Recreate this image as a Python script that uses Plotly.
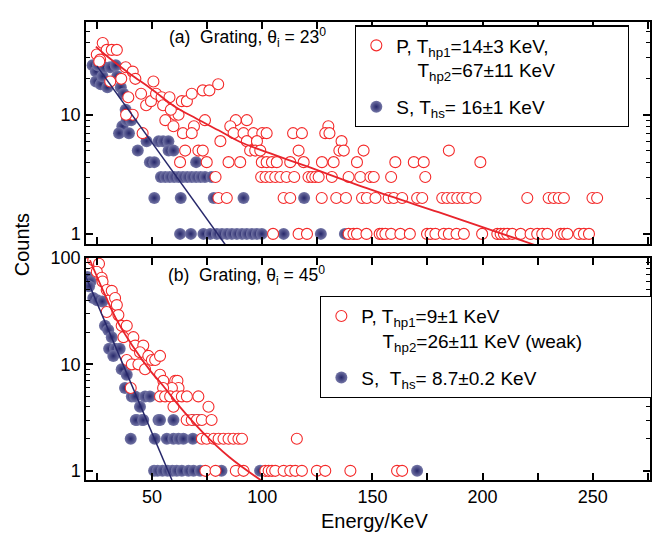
import plotly.graph_objects as go

# ---------------- data: panel (a) grating, theta_i = 23 deg ----------------
s_a_energy = [23, 24.5, 25.5, 24.5, 26.7, 27.5, 28.2, 29.7, 31, 33.5, 34.2, 35.8, 37, 38,
              36.5, 38.5, 40.5, 35, 39.5, 43.5, 47.5, 49, 51, 53, 55, 57.4, 57.5, 59.7,
              54, 56, 58, 60, 62, 64, 66, 68, 70, 70, 72, 74, 77,
              51, 63, 78, 91.5, 119,
              62.7, 67.6, 73.3, 76.4, 79.4, 81.7, 84, 86.2, 88.5, 90.8, 93, 95.3, 97.6, 99.8,
              109.7, 126.6, 137.5]
s_a_counts = [26, 23, 26, 19, 18, 21, 25, 17, 25, 26, 21, 17, 15, 11,
              8, 9, 9, 7, 7, 5, 6, 4, 4, 6, 6, 6, 5, 5,
              3, 3, 3, 3, 3, 3, 3, 3, 3, 4, 3, 3, 3,
              2, 2, 2, 2, 2,
              1, 1, 1, 1, 1, 1, 1, 1, 1, 1, 1, 1, 1, 1,
              1, 1, 1]

p_a_energy = [24.9, 27.6, 26.4, 29.4, 31.7, 34, 26, 31, 38, 36, 41.2, 42.4, 39.2, 41.2, 38.2,
              45.7, 45, 47.3, 49.5, 50.6, 51.8, 54.3, 55, 57.9, 56, 59.7, 63.5, 65.8, 68, 73,
              76, 80, 60.5, 62, 58.5,
              74, 88, 93,
              69, 85.5, 130,
              64, 68, 87, 91.5, 96, 100, 102, 114, 118, 128.6, 130.5,
              81, 93, 97.6, 136,
              65, 71, 73, 94.5, 96.8, 99.1, 116.5, 135, 137, 146, 184.7,
              62.7, 74.8, 84.7, 90, 99.8, 102, 104.4, 106.6, 112.7, 118.8, 127.1, 132.4, 143,
              160.4, 168.8, 173.3, 199,
              78.8, 99.5, 101.5, 103.6, 105.9, 108.2, 111, 114.5, 121, 122.6, 124.1, 125.6,
              131.6, 139.2, 144.5, 149.1, 150.6, 158.5, 174,
              80.1, 83.9, 109.7, 112.7, 127, 133.6, 138, 145.3, 147.5, 151.4, 157.4, 159.7,
              163.5, 170.3, 172.6, 181.7, 183.9, 186.2, 188.5, 190.8, 193, 196.8, 220.3, 230,
              232.3, 234.6, 236.9, 249.9, 252,
              104.9, 116.5, 120.3, 139.2, 141.4, 143, 147.3, 153.3, 154.4, 155.9, 158.5, 162.7,
              167, 174.8, 176.4, 178.6, 182.4, 184.7, 188.2, 191.5, 199.8, 206.7, 208.2, 209.7,
              211.2, 213.5, 217.3, 221.8, 224.8, 227.1, 229.4, 235.5, 237, 238.5, 243.8, 246,
              248.3]
p_a_counts = [32, 40, 29, 35, 35, 35, 28, 19, 25, 20, 23, 20, 14, 10, 10,
              7, 15, 12, 13, 19, 15, 14, 12, 14, 9, 8, 13, 13, 15, 16,
              16, 18, 10, 10, 11,
              9, 9, 9,
              8, 8, 8,
              7, 7, 7, 7, 7, 7, 7, 7, 7, 7, 7,
              6, 6, 6, 6,
              5, 5, 5, 5, 5, 5, 5, 5, 5, 5, 5,
              4, 4, 4, 4, 4, 4, 4, 4, 4, 4, 4, 4, 4,
              4, 4, 4, 4,
              3, 3, 3, 3, 3, 3, 3, 3, 3, 3, 3, 3,
              3, 3, 3, 3, 3, 3, 3,
              2, 2, 2, 2, 2, 2, 2, 2, 2, 2, 2, 2,
              2, 2, 2, 2, 2, 2, 2, 2, 2, 2, 2, 2,
              2, 2, 2, 2, 2,
              1, 1, 1, 1, 1, 1, 1, 1, 1, 1, 1, 1,
              1, 1, 1, 1, 1, 1, 1, 1, 1, 1, 1, 1,
              1, 1, 1, 1, 1, 1, 1, 1, 1, 1, 1, 1,
              1]

# fit curves
fit_p_a_energy = [24.5, 30, 40, 50, 60, 70, 81, 90, 102, 120, 149, 180, 200, 223.5]
fit_p_a_counts = [37.3, 30.5, 22, 16.3, 11.8, 9.3, 7.26, 5.9, 4.85, 3.7, 2.36, 1.52, 1.14, 0.81]
fit_s_a_energy = [24.9, 83.5]
fit_s_a_counts = [25.7, 0.8]

# ---------------- data: panel (b) grating, theta_i = 45 deg ----------------
s_b_energy = [20.6, 22.1, 21.4, 23.3, 25.1, 27.4, 28.6, 30.1, 31.7, 30.5, 33.2, 35.3, 32.4,
              36.2, 38.5, 37.7, 40.8, 42.3, 46.8, 49, 44.5, 43, 45.5, 42.6, 46, 52.9, 53.6,
              59.7, 68.8, 71,
              40.3, 51.2, 56.7, 59.7, 62, 64.2, 68.5,
              50.9, 52.5, 54.7, 57, 59.2, 61.2, 63.5, 66.5, 68.8, 71.8, 81.5, 99, 170.3]
s_b_counts = [66, 60, 54, 42, 40, 39, 23, 21, 18, 14, 14, 14, 12,
              9, 8, 6, 5, 5, 5, 5, 4, 3, 3, 3, 3, 3, 3,
              3, 3, 3,
              2, 2, 2, 2, 2, 2, 2,
              1, 1, 1, 1, 1, 1, 1, 1, 1, 1, 1, 1, 1]

p_b_energy = [21, 23.3, 25.9, 24.9, 27.1, 27.5, 29.4, 31.7, 33.2, 29.4, 34, 34.7, 36.2, 38.5,
              37, 41.5, 38.5, 40.8, 43.8, 42.3, 46, 44.5, 48.3, 46.8, 49.9, 51.4, 53.6, 53.6,
              55.1, 60.5, 61.5, 62, 59, 40.3, 55,
              53.6, 55.9, 58.2, 61.2, 63.5, 65.8, 71,
              59.7, 75.6,
              65.7, 68, 70.3, 72.6, 77,
              72.6, 74.8, 78, 80.2, 82.4, 84.7, 86.9, 89.2, 90.8, 115.7,
              74.2, 78.8, 88, 91.5, 101.4, 102.9, 104.4, 105.9, 109.7, 112.7, 115, 118, 124.8,
              128.6, 140, 161.2, 163.5]
p_b_counts = [89, 95, 88, 74, 65, 60, 50, 49, 42, 31, 36, 29, 23, 23,
              18, 18, 11, 10, 10, 15, 15, 13, 12, 9, 11, 11, 12, 8,
              7, 7, 7, 6, 6, 6, 6,
              5, 5, 5, 5, 5, 5, 5,
              4, 4,
              3, 3, 3, 3, 3,
              2, 2, 2, 2, 2, 2, 2, 2, 2, 2,
              1, 1, 1, 1, 1, 1, 1, 1, 1, 1, 1, 1, 1,
              1, 1, 1, 1]

fit_p_b_energy = [21.8, 28, 34, 41, 49.4, 55, 63, 73, 85, 100]
fit_p_b_counts = [95, 48, 26, 15, 8.6, 6.3, 3.9, 2.3, 1.35, 0.8]
fit_s_b_energy = [20, 59]
fit_s_b_counts = [66, 0.82]

# ---------------- text ----------------
legend_p_a = ("P, T<sub>hp1</sub>=14±3 KeV," + "\u00a0" * 14 +
              "<br>" + "\u00a0" * 4 + "T<sub>hp2</sub>=67±11 KeV")
legend_s_a = "S, T<sub>hs</sub>= 16±1 KeV"
legend_p_b = ("P, T<sub>hp1</sub>=9±1 KeV" +
              "<br>" + "\u00a0" * 4 + "T<sub>hp2</sub>=26±11 KeV (weak)" + "\u00a0" * 12)
legend_s_b = "S,\u00a0\u00a0T<sub>hs</sub>= 8.7±0.2 KeV"
label_a = "(a)\u00a0\u00a0Grating, θ<sub>i</sub> = 23<sup>0</sup>"
label_b = "(b)\u00a0\u00a0Grating, θ<sub>i</sub> = 45<sup>0</sup>"

FONT = "Liberation Sans, Arial, sans-serif"
RED = "#f42a2a"
RED_LINE = "#e8242c"
NAVY = "#26276a"

sphere = dict(symbol="circle", size=12, color="#7476a6",
              gradient=dict(type="radial", color=NAVY), line=dict(width=0))
ring = dict(symbol="circle", size=11, color="white", line=dict(color=RED, width=1.1))

fig = go.Figure()

# panel (a)
fig.add_trace(go.Scatter(x=s_a_energy, y=s_a_counts, mode="markers", marker=sphere,
                         name=legend_s_a, legend="legend", legendrank=2, legendgroup="s",
                         xaxis="x", yaxis="y"))
fig.add_trace(go.Scatter(x=p_a_energy, y=p_a_counts, mode="markers", marker=ring,
                         name=legend_p_a, legend="legend", legendrank=1, legendgroup="p",
                         xaxis="x", yaxis="y"))
fig.add_trace(go.Scatter(x=fit_s_a_energy, y=fit_s_a_counts, mode="lines",
                         line=dict(color=NAVY, width=1.5), showlegend=False,
                         xaxis="x", yaxis="y"))
fig.add_trace(go.Scatter(x=fit_p_a_energy, y=fit_p_a_counts, mode="lines",
                         line=dict(color=RED_LINE, width=1.8, shape="spline"), showlegend=False,
                         xaxis="x", yaxis="y"))

# panel (b)
fig.add_trace(go.Scatter(x=s_b_energy, y=s_b_counts, mode="markers", marker=sphere,
                         name=legend_s_b, legend="legend2", legendrank=2, legendgroup="s2",
                         xaxis="x2", yaxis="y2"))
fig.add_trace(go.Scatter(x=p_b_energy, y=p_b_counts, mode="markers", marker=ring,
                         name=legend_p_b, legend="legend2", legendrank=1, legendgroup="p2",
                         xaxis="x2", yaxis="y2"))
fig.add_trace(go.Scatter(x=fit_s_b_energy, y=fit_s_b_counts, mode="lines",
                         line=dict(color=NAVY, width=1.5), showlegend=False,
                         xaxis="x2", yaxis="y2"))
fig.add_trace(go.Scatter(x=fit_p_b_energy, y=fit_p_b_counts, mode="lines",
                         line=dict(color=RED_LINE, width=1.8, shape="spline"), showlegend=False,
                         xaxis="x2", yaxis="y2"))

axis_common = dict(showline=True, linecolor="black", linewidth=1.5, mirror="ticks",
                   ticks="inside", tickcolor="black", tickwidth=1.5, showgrid=False,
                   zeroline=False, tickfont=dict(family=FONT, size=18, color="black"))

xcommon = dict(axis_common, range=[20, 276], tick0=0, dtick=50, ticklen=7,
               minor=dict(tick0=0, dtick=25, ticks="inside", ticklen=7, tickwidth=1.5,
                          tickcolor="black"))

minor_a = [2, 3, 4, 5, 6, 7, 8, 9, 20, 30, 40, 50]
minor_b = [2, 3, 4, 5, 6, 7, 8, 9, 20, 30, 40, 50, 60, 70, 80, 90]

# the page body has an 8px default margin, so the figure is sized to fit the window
fig.update_layout(
    width=657, height=533, autosize=False,
    margin=dict(l=78, r=15, t=4, b=61),
    paper_bgcolor="white", plot_bgcolor="white",
    font=dict(family=FONT, size=18, color="black"),
    xaxis=dict(xcommon, anchor="y", showticklabels=False, matches="x2"),
    xaxis2=dict(xcommon, anchor="y2", showticklabels=True),
    yaxis=dict(axis_common, type="log", domain=[0.515, 1.0], anchor="x",
               range=[-0.086, 1.778], tickmode="array", tickvals=[1, 10], ticktext=["1", "10"],
               ticklen=7,
               minor=dict(tickmode="array", tickvals=minor_a, ticks="inside", ticklen=4,
                          tickwidth=1.2, tickcolor="black")),
    yaxis2=dict(axis_common, type="log", domain=[0.0, 0.485], anchor="x2",
                range=[-0.086, 2.0], tickmode="array", tickvals=[1, 10, 100],
                ticktext=["1", "10", "100"], ticklen=7,
                minor=dict(tickmode="array", tickvals=minor_b, ticks="inside", ticklen=4,
                           tickwidth=1.2, tickcolor="black")),
    legend=dict(x=0.477, y=0.993, xanchor="left", yanchor="top", bgcolor="white",
                bordercolor="black", borderwidth=1.3, font=dict(family=FONT, size=19),
                valign="top", tracegroupgap=9, itemsizing="trace"),
    legend2=dict(x=0.415, y=0.402, xanchor="left", yanchor="top", bgcolor="white",
                 bordercolor="black", borderwidth=1.3, font=dict(family=FONT, size=19),
                 valign="top", tracegroupgap=9, itemsizing="trace"),
    annotations=[
        dict(text=label_a, x=0.143, y=0.966, xref="paper", yref="paper", xanchor="left",
             yanchor="middle", showarrow=False, font=dict(family=FONT, size=17.5)),
        dict(text=label_b, x=0.141, y=0.446, xref="paper", yref="paper", xanchor="left",
             yanchor="middle", showarrow=False, font=dict(family=FONT, size=17.5)),
        dict(text="Counts", x=-0.113, y=0.513, xref="paper", yref="paper", textangle=-90,
             xanchor="center", yanchor="middle", showarrow=False,
             font=dict(family=FONT, size=20)),
        dict(text="Energy/KeV", x=0.512, y=-0.09, xref="paper", yref="paper",
             xanchor="center", yanchor="middle", showarrow=False,
             font=dict(family=FONT, size=20)),
    ],
)

fig.write_html("out.html")
